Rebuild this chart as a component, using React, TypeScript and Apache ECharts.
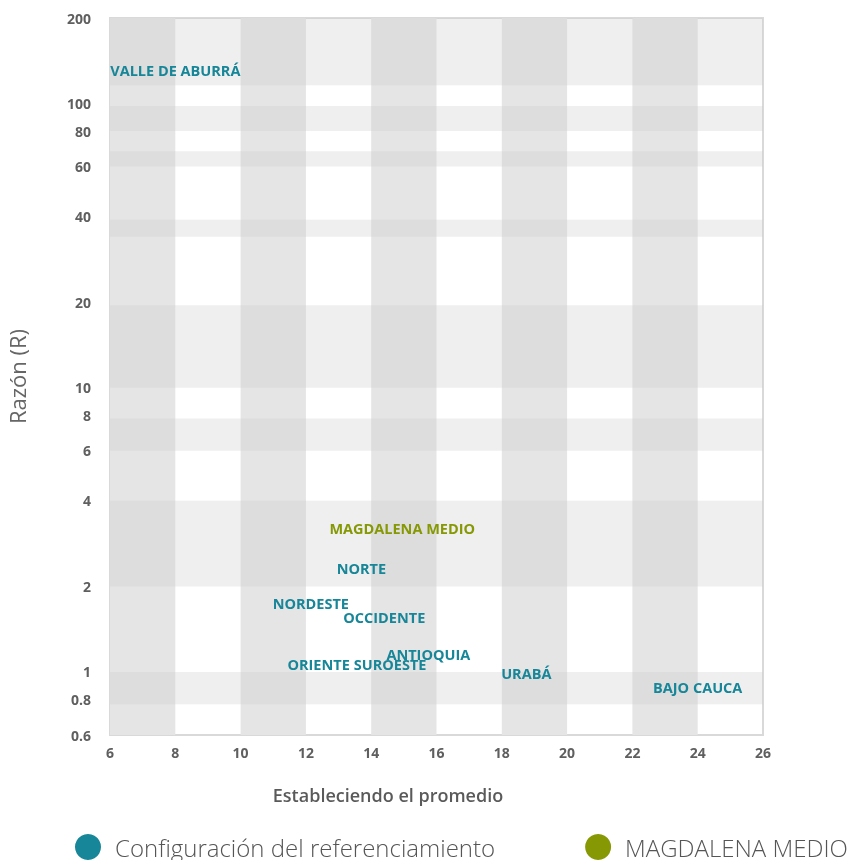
import { useEffect, useRef } from "react";
import * as echarts from "echarts";

const regionNames = ["VALLE DE ABURRÁ", "NORTE", "NORDESTE", "OCCIDENTE", "ANTIOQUIA", "ORIENTE", "SUROESTE", "URABÁ", "BAJO CAUCA"];
const regionX = [8.0, 13.7, 12.15, 14.4, 15.75, 12.39, 14.58, 18.75, 24.0];
const regionR = [131, 2.31, 1.74, 1.56, 1.15, 1.06, 1.06, 0.99, 0.885];
const highlightNames = ["MAGDALENA MEDIO"];
const highlightX = [14.95];
const highlightR = [3.19];
const yTicks = [0.6, 0.8, 1, 2, 4, 6, 8, 10, 20, 40, 60, 80, 100, 200];
const xBands = [[6, 8], [10, 12], [14, 16], [18, 20], [22, 24]];
const yBands = [[0.77, 1], [2, 4], [6, 7.8], [10, 19.5], [34, 39], [60, 68], [80, 98], [116, 200]];

const TEAL = "#168698";
const OLIVE = "#869904";
const SERIES_MAIN = "Configuración del referenciamiento";
const SERIES_HL = "MAGDALENA MEDIO";

export default function App() {
  const ref = useRef<HTMLDivElement>(null);
  useEffect(() => {
    if (!ref.current) return;
    const chart = echarts.init(ref.current, null, { renderer: "svg" });
    const lg = (v: number) => Math.log10(v);
    const labelStyle = (color: string) => ({
      show: true,
      position: "inside" as const,
      formatter: "{b}",
      color,
      fontFamily: "Open Sans",
      fontWeight: "bold" as const,
      fontSize: 14.5,
    });
    chart.setOption({
      animation: false,
      grid: {
        left: 110,
        right: 101,
        top: 18,
        bottom: 125,
        show: true,
        borderColor: "#d9d9d9",
        borderWidth: 2,
        backgroundColor: "transparent",
        outerBoundsMode: "none",
        containLabel: false,
      },
      legend: {
        data: [
          { name: SERIES_MAIN, icon: "circle" },
          { name: SERIES_HL, icon: "circle" },
        ],
        left: 75,
        top: 834,
        padding: 0,
        itemWidth: 26,
        itemHeight: 26,
        itemGap: 90,
        textStyle: {
          fontFamily: "Open Sans",
          fontSize: 24,
          fontWeight: 300,
          color: "#555",
          padding: [0, 0, 0, 9],
        },
        selectedMode: false,
      },
      xAxis: {
        type: "value",
        min: 6,
        max: 26,
        interval: 2,
        name: "Estableciendo el promedio",
        nameLocation: "middle",
        nameGap: 51,
        nameTextStyle: {
          fontFamily: "Open Sans",
          fontSize: 18,
          fontWeight: 600,
          color: "#5a5a5a",
          padding: [0, 97, 0, 0],
        },
        axisLine: { show: false },
        axisTick: { show: false },
        splitLine: { show: false },
        axisLabel: { fontFamily: "Open Sans", fontSize: 14, fontWeight: "bold", color: "#5f5f5f", margin: 10 },
      },
      yAxis: {
        type: "value",
        min: lg(yTicks[0]),
        max: lg(yTicks[yTicks.length - 1]),
        name: "Razón (R)",
        nameLocation: "middle",
        nameRotate: 90,
        nameGap: 82,
        nameTextStyle: { fontFamily: "Open Sans", fontSize: 22, color: "#666" },
        axisLine: { show: false },
        axisTick: { show: false },
        splitLine: { show: false },
        axisLabel: {
          customValues: yTicks.map(lg),
          formatter: (v: number) => String(parseFloat(Math.pow(10, v).toPrecision(3))),
          fontFamily: "Open Sans",
          fontSize: 14,
          fontWeight: "bold",
          color: "#5f5f5f",
          margin: 19,
        },
      },
      series: [
        {
          name: "vbands",
          type: "scatter",
          data: [],
          z: 1,
          silent: true,
          markArea: {
            silent: true,
            itemStyle: { color: "#e5e5e5" },
            data: xBands.map(([a, b]) => [{ xAxis: a }, { xAxis: b }]),
          },
        },
        {
          name: "hbands",
          type: "scatter",
          data: [],
          z: 2,
          silent: true,
          markArea: {
            silent: true,
            itemStyle: { color: "rgba(203,203,203,0.31)" },
            data: yBands.map(([a, b]) => [{ yAxis: lg(a) }, { yAxis: lg(b) }]),
          },
        },
        {
          name: SERIES_MAIN,
          type: "scatter",
          z: 3,
          symbolSize: 0,
          itemStyle: { color: TEAL, opacity: 1 },
          label: labelStyle(TEAL),
          emphasis: { disabled: true },
          data: regionNames.map((n, i) => ({ name: n, value: [regionX[i], lg(regionR[i])] })),
        },
        {
          name: SERIES_HL,
          type: "scatter",
          z: 3,
          symbolSize: 0,
          itemStyle: { color: OLIVE, opacity: 1 },
          label: labelStyle(OLIVE),
          emphasis: { disabled: true },
          data: highlightNames.map((n, i) => ({ name: n, value: [highlightX[i], lg(highlightR[i])] })),
        },
      ],
    });
    return () => chart.dispose();
  }, []);
  return <div ref={ref} style={{ position: "fixed", left: 0, top: 0, width: 864, height: 860 }} />;
}
